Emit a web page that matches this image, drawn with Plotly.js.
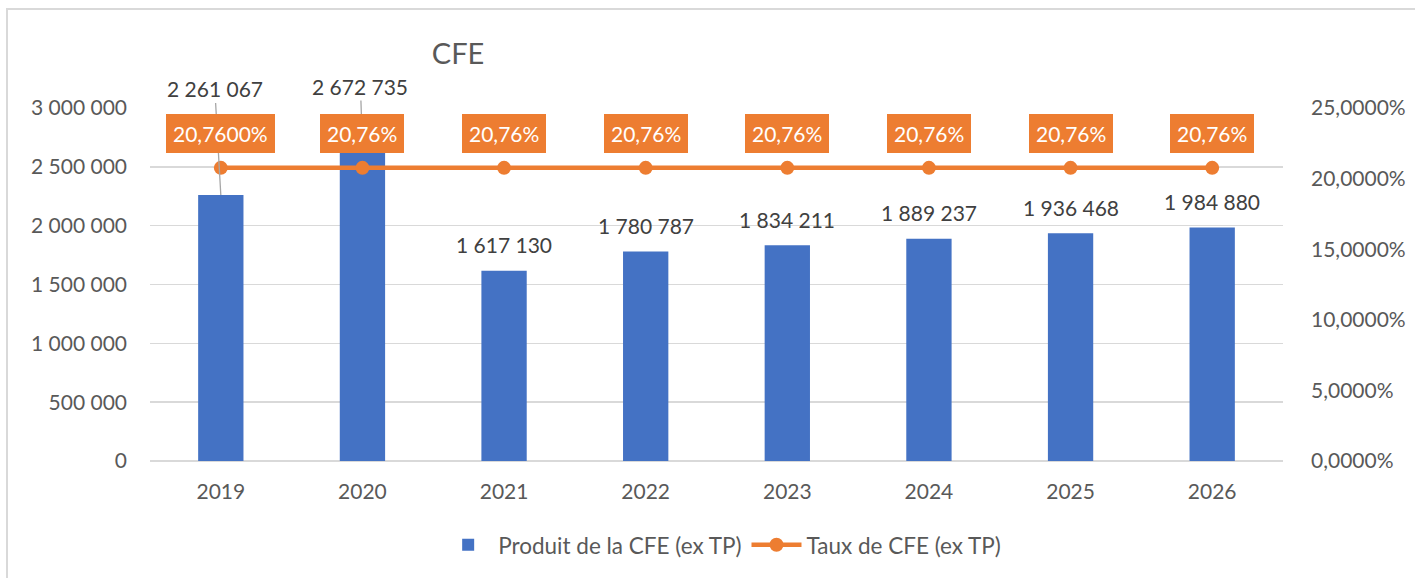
<!DOCTYPE html>
<html>
<head>
<meta charset="utf-8">
<script src="https://cdn.plot.ly/plotly-3.0.1.min.js"></script>
<style>
html,body{margin:0;padding:0;background:#fff;overflow:hidden;}
#chart{position:absolute;left:0;top:0;width:1415px;height:578px;}
#frame{position:absolute;left:6px;top:8px;width:1420px;height:580px;border-left:2px solid #d9d9d9;border-top:2px solid #d9d9d9;pointer-events:none;}
</style>
</head>
<body>
<div id="chart"></div>
<div id="frame"></div>
<script>
const years = ['2019','2020','2021','2022','2023','2024','2025','2026'];
const produit = [2261067, 2672735, 1617130, 1780787, 1834211, 1889237, 1936468, 1984880];
const taux = [0.2076, 0.2076, 0.2076, 0.2076, 0.2076, 0.2076, 0.2076, 0.2076];
const tauxLabels = ['20,7600%','20,76%','20,76%','20,76%','20,76%','20,76%','20,76%','20,76%'];
const seriesNames = ['Produit de la CFE (ex TP)', 'Taux de CFE (ex TP)'];
const chartTitle = 'CFE';

const FONT = 'Lato, "Open Sans", sans-serif';
const fmt = v => String(v).replace(/\B(?=(\d{3})+(?!\d))/g, ' ');

// leader-line offsets for the labels moved away from their bars (pixels)
const leader = {'2019': [-6, -106], '2020': [-2, -60]};

const annotations = [];
years.forEach((yr, i) => {
  const a = {
    x: i, y: produit[i], xref: 'x', yref: 'y',
    text: fmt(produit[i]),
    font: {family: FONT, size: 21, color: '#404040'},
    bgcolor: 'rgba(0,0,0,0)'
  };
  if (leader[yr]) {
    Object.assign(a, {showarrow: true, arrowhead: 0, arrowwidth: 1.3, arrowcolor: '#a6a6a6',
      ax: leader[yr][0], ay: leader[yr][1], standoff: 0});
  } else {
    Object.assign(a, {showarrow: false, yanchor: 'middle', yshift: 26});
  }
  annotations.push(a);
});
years.forEach((yr, i) => {
  annotations.push({
    x: i, y: taux[i], xref: 'x', yref: 'y2',
    text: tauxLabels[i], showarrow: false,
    yanchor: 'middle', yshift: 34,
    bgcolor: '#ED7D31', borderpad: 7, borderwidth: 0,
    font: {family: FONT, size: 21, color: '#ffffff'}
  });
});

const data = [
  {type: 'bar', x: years, y: produit, name: seriesNames[0],
   marker: {color: '#4472C4'}, hoverinfo: 'skip', yaxis: 'y'},
  {type: 'scatter', mode: 'lines+markers', x: years, y: taux, name: seriesNames[1],
   line: {color: '#ED7D31', width: 4.5}, marker: {color: '#ED7D31', size: 14},
   hoverinfo: 'skip', yaxis: 'y2'}
];

const layout = {
  width: 1415, height: 578,
  margin: {l: 150, r: 132, t: 108, b: 116, pad: 0},
  paper_bgcolor: 'rgba(0,0,0,0)', plot_bgcolor: '#fff',
  separators: ', ',
  font: {family: FONT, size: 21, color: '#595959'},
  title: {text: chartTitle, font: {family: FONT, size: 29, color: '#595959'},
          xref: 'container', yref: 'container', x: 0.3237, y: 0.906, xanchor: 'center', yanchor: 'middle'},
  bargap: 0.68,
  showlegend: true,
  legend: {orientation: 'h', x: 0.505, xanchor: 'center', y: -0.235, yanchor: 'middle',
           font: {family: FONT, size: 22.5, color: '#595959'}, itemwidth: 50, traceorder: 'normal'},
  xaxis: {type: 'category', range: [-0.5, 7.5], showgrid: false, showline: false, zeroline: false, ticks: '',
          ticklabelstandoff: 16, tickfont: {family: FONT, size: 21, color: '#595959'}},
  yaxis: {range: [0, 3000000], dtick: 500000, tickformat: ',d', showgrid: true, gridcolor: '#d9d9d9', gridwidth: 1.5,
          zeroline: true, zerolinecolor: '#d9d9d9', zerolinewidth: 1.5, showline: false, ticks: '',
          ticklabelstandoff: 22, tickfont: {family: FONT, size: 21, color: '#595959'}},
  yaxis2: {range: [0, 0.25], dtick: 0.05, tickformat: '.4%', overlaying: 'y', side: 'right',
           showgrid: false, zeroline: false, showline: false, ticks: '',
           ticklabelstandoff: 27, tickfont: {family: FONT, size: 21, color: '#595959'}},
  annotations: annotations
};

Plotly.newPlot('chart', data, layout, {displayModeBar: false, staticPlot: true});
</script>
</body>
</html>
